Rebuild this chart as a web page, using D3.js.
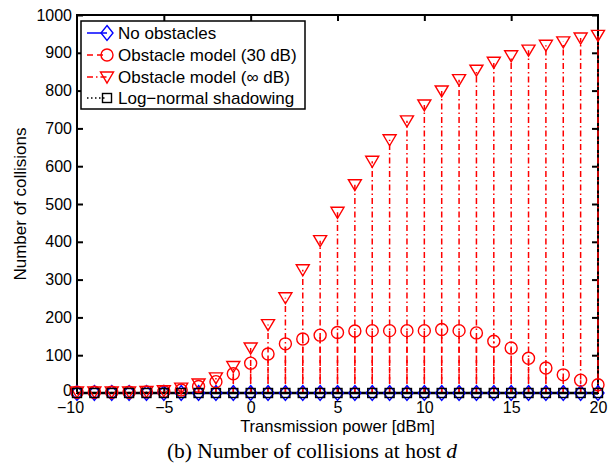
<!DOCTYPE html>
<html>
<head>
<meta charset="utf-8">
<script src="https://cdn.jsdelivr.net/npm/d3@7"></script>
<style>
  html, body { margin: 0; padding: 0; background: #fff; }
  svg { display: block; }
  text { font-family: "Liberation Sans", Arial, Helvetica, sans-serif; }
</style>
</head>
<body>
<svg id="chart" width="608" height="463"></svg>
<script>
// Transmission power sweep (dBm)
const power = d3.range(-10, 21);

// Collisions per transmission power, one array per channel model
const noObstacles = [0,0,0,0,0,0,0,0,0,0,0,0,0,0,0,0,0,0,0,0,0,0,0,0,0,0,0,0,0,0,0];
const obstacle30dB = [2,2,2,2,3,4,8,17,30,51,79,103,130,143,153,160,164,165,165,165,165,168,165,159,137,119,92,66,48,34,22];
const obstacleInf = [3,3,3,3,4,6,13,24,40,70,119,181,252,326,403,478,551,613,670,720,762,799,829,854,875,892,907,920,929,939,946];
const logNormal = [0,0,0,0,0,0,0,0,0,0,0,0,0,0,0,0,0,0,0,0,0,0,0,0,0,0,0,0,0,0,0];

const xTicks = [-10, -5, 0, 5, 10, 15, 20];
const yTicks = [0, 100, 200, 300, 400, 500, 600, 700, 800, 900, 1000];
const legendLabels = ["No obstacles", "Obstacle model (30 dB)", "Obstacle model (\u221E dB)", "Log\u2212normal shadowing"];

const svg = d3.select("#chart");
const plot = { left: 77, right: 598, top: 15, bottom: 393 };

const x = d3.scaleLinear().domain([-10, 20]).range([plot.left, plot.right]);
const y = d3.scaleLinear().domain([0, 1000]).range([plot.bottom, plot.top]);

const fmtMinus = d => String(d).replace("-", "\u2212");

// Axes box with inward ticks on all four sides
const tickLen = 6;
const axisG = svg.append("g");
function styleAxis(g) {
  g.select(".domain").remove();
  g.selectAll(".tick line").attr("stroke", "#000").attr("stroke-width", 2);
  g.selectAll(".tick text").attr("fill", "#000").style("font-size", "16px");
}
const xAxisG = axisG.append("g").attr("transform", `translate(0,${plot.bottom})`)
  .call(d3.axisBottom(x).tickValues(xTicks).tickSizeInner(-tickLen).tickSizeOuter(0).tickPadding(9).tickFormat(fmtMinus))
  .call(styleAxis);
// the leftmost label sits slightly left of its tick, clear of the "0" below
xAxisG.selectAll(".tick").filter(d => d === -10).select("text").attr("dx", -7);
axisG.append("g").attr("transform", `translate(0,${plot.top})`)
  .call(d3.axisTop(x).tickValues(xTicks).tickSizeInner(-tickLen).tickSizeOuter(0).tickFormat(""))
  .call(styleAxis);
const yAxisG = axisG.append("g").attr("transform", `translate(${plot.left},0)`)
  .call(d3.axisLeft(y).tickValues(yTicks).tickSizeInner(-tickLen).tickSizeOuter(0).tickPadding(5).tickFormat(d3.format("d")))
  .call(styleAxis);
yAxisG.selectAll(".tick").filter(d => d === 0).select("text").attr("y", -3);
axisG.append("g").attr("transform", `translate(${plot.right},0)`)
  .call(d3.axisRight(y).tickValues(yTicks).tickSizeInner(-tickLen).tickSizeOuter(0).tickFormat(""))
  .call(styleAxis);
// end ticks that sit on the box corners are hidden
axisG.selectAll(".tick").filter(d => d === -10 || d === 20).select("line").attr("opacity", 0);

axisG.append("rect")
  .attr("x", plot.left).attr("y", plot.top)
  .attr("width", plot.right - plot.left).attr("height", plot.bottom - plot.top)
  .attr("fill", "none").attr("stroke", "#000").attr("stroke-width", 2);

// Marker shapes
function drawMarker(g, type, color) {
  if (type === "diamond") {
    g.append("path").attr("d", "M0,-7.5L6,0L0,7.5L-6,0Z")
      .attr("fill", "none").attr("stroke", color).attr("stroke-width", 1.4);
  } else if (type === "circle") {
    g.append("circle").attr("r", 6)
      .attr("fill", "none").attr("stroke", color).attr("stroke-width", 1.4);
  } else if (type === "triangle") {
    g.append("path").attr("d", "M-6.5,-5L6.5,-5L0,6Z")
      .attr("fill", "none").attr("stroke", color).attr("stroke-width", 1.4);
  } else if (type === "square") {
    g.append("rect").attr("x", -4.5).attr("y", -4.5).attr("width", 9).attr("height", 9)
      .attr("fill", "none").attr("stroke", color).attr("stroke-width", 1.4);
  }
}

const series = [
  { values: noObstacles, color: "#0000ff", dash: null, marker: "diamond" },
  { values: obstacle30dB, color: "#ff0000", dash: "6,4", marker: "circle" },
  { values: obstacleInf, color: "#ff0000", dash: "6,3,1.5,3", marker: "triangle" },
  { values: logNormal, color: "#000000", dash: "1.5,2.5", marker: "square" }
];

const dataG = svg.append("g");
series.forEach(s => {
  const g = dataG.append("g");
  const pts = power.map((p, i) => ({ p, v: s.values[i] }));
  g.selectAll("line.stem").data(pts).join("line")
    .attr("class", "stem")
    .attr("x1", d => x(d.p)).attr("x2", d => x(d.p))
    .attr("y1", y(0)).attr("y2", d => y(d.v))
    .attr("stroke", s.color).attr("stroke-width", 1.5)
    .attr("stroke-dasharray", s.dash);
});
// Stem baseline
dataG.append("line")
  .attr("x1", plot.left).attr("x2", plot.right)
  .attr("y1", y(0)).attr("y2", y(0))
  .attr("stroke", "#000").attr("stroke-width", 2.5);
series.forEach(s => {
  const g = dataG.append("g");
  power.forEach((p, i) => {
    const m = g.append("g").attr("transform", `translate(${x(p)},${y(s.values[i])})`);
    drawMarker(m, s.marker, s.color);
  });
});

// Axis labels and caption
svg.append("text")
  .attr("x", (plot.left + plot.right) / 2).attr("y", 432)
  .attr("text-anchor", "middle").style("font-size", "16.5px")
  .text("Transmission power [dBm]");
svg.append("text")
  .attr("transform", `translate(26,${(plot.top + plot.bottom) / 2}) rotate(-90)`)
  .attr("text-anchor", "middle").style("font-size", "17px")
  .text("Number of collisions");
const cap = svg.append("text")
  .attr("x", 312).attr("y", 458)
  .attr("text-anchor", "middle")
  .style("font-family", "'Liberation Serif', 'Times New Roman', serif")
  .style("font-size", "21.5px");
cap.append("tspan").text("(b) Number of collisions at host ");
cap.append("tspan").style("font-style", "italic").text("d");

// Legend
const leg = svg.append("g");
leg.append("rect")
  .attr("x", 81).attr("y", 21).attr("width", 224).attr("height", 88)
  .attr("fill", "#fff").attr("stroke", "#000").attr("stroke-width", 1.5);
const rowY = [33, 55, 77, 98];
series.forEach((s, i) => {
  const ry = rowY[i];
  leg.append("line")
    .attr("x1", 87).attr("x2", 107).attr("y1", ry).attr("y2", ry)
    .attr("stroke", s.color).attr("stroke-width", 1.5)
    .attr("stroke-dasharray", s.dash);
  const m = leg.append("g").attr("transform", `translate(107,${ry})`);
  drawMarker(m, s.marker, s.color);
  leg.append("text")
    .attr("x", 118).attr("y", ry + 6)
    .style("font-size", "17px")
    .text(legendLabels[i]);
});
</script>
</body>
</html>
